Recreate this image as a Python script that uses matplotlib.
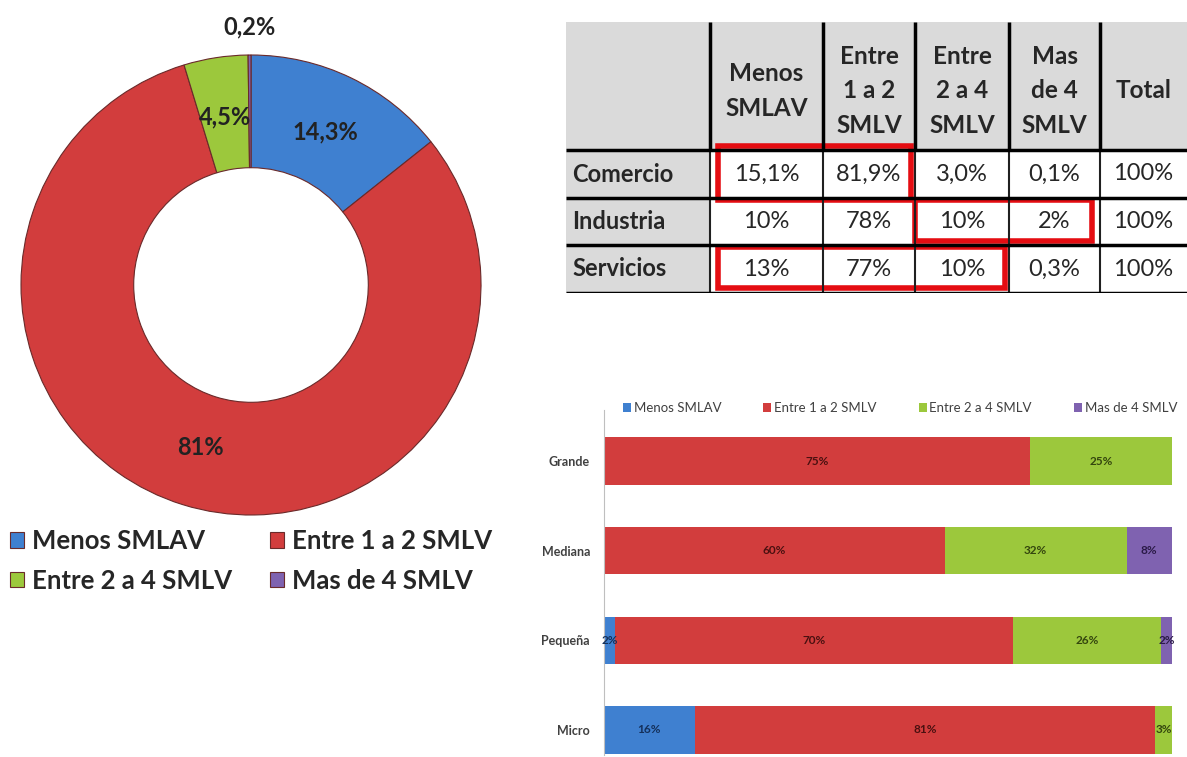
import matplotlib.pyplot as plt
from matplotlib.patches import Rectangle
import numpy as np

plt.rcParams['font.family'] = ['Lato', 'DejaVu Sans']

categorias = ['Menos SMLAV', 'Entre 1 a 2 SMLV', 'Entre 2 a 4 SMLV', 'Mas de 4 SMLV']
cores = ['#3f80d0', '#d23d3d', '#9cc83c', '#7f62b0']

# distribución general (dona)
participacion = [14.3, 81, 4.5, 0.2]

# tabla por sector
cols_tabla = ['Menos\nSMLAV', 'Entre\n1 a 2\nSMLV', 'Entre\n2 a 4\nSMLV', 'Mas\nde 4\nSMLV', 'Total']
sectores = ['Comercio', 'Industria', 'Servicios']
valores_tabla = [
    ['15,1%', '81,9%', '3,0%', '0,1%', '100%'],
    ['10%', '78%', '10%', '2%', '100%'],
    ['13%', '77%', '10%', '0,3%', '100%'],
]

# barras por tamaño de empresa
tamanos = ['Micro', 'Pequeña', 'Mediana', 'Grande']
menos = [16, 2, 0, 0]
entre_1_2 = [81, 70, 60, 75]
entre_2_4 = [3, 26, 32, 25]
mas_4 = [0, 2, 8, 0]

W, H = 1187, 757
fig = plt.figure(figsize=(W / 100, H / 100), dpi=100)


def pct(v):
    return f'{v:g}%'.replace('.', ',')


# --- Dona ---
ax_pie = fig.add_axes([21 / W, 242 / H, 460 / W, 460 / H])
wedges, _ = ax_pie.pie(participacion, colors=cores, startangle=90, counterclock=False,
                       radius=1, wedgeprops=dict(width=0.49, edgecolor='#6a2a2a', linewidth=0.8))
ax_pie.set_xlim(-1, 1)
ax_pie.set_ylim(-1, 1)
for w, v in zip(wedges, participacion):
    ang = np.deg2rad((w.theta1 + w.theta2) / 2)
    r = 0.74 if v > 1 else 1.12
    ax_pie.text(r * np.cos(ang), r * np.sin(ang), pct(v), ha='center', va='center',
                fontsize=17, fontweight='bold', color='#222222')

orden = [0, 2, 1, 3]
fig.legend([wedges[i] for i in orden], [categorias[i] for i in orden], ncol=2,
           loc='center', bbox_to_anchor=(251 / W, 1 - 561 / H), frameon=False,
           prop=dict(weight='bold', size=18.5), handlelength=0.55, handleheight=0.55,
           handletextpad=0.3, columnspacing=1.5, labelspacing=0.6, labelcolor='#262626')

# --- Tabla ---
ax_t = fig.add_axes([566 / W, (H - 293) / H, (W - 566) / W, 271 / H])
anchos = [144, 113, 92, 94, 91, 87]
altos = [128, 48, 47, 48]
xs = np.concatenate([[0], np.cumsum(anchos)])
ys = np.concatenate([[0], np.cumsum(altos)])
ax_t.set_xlim(0, xs[-1])
ax_t.set_ylim(ys[-1], 0)
ax_t.axis('off')

gris = '#dadada'
ax_t.add_patch(Rectangle((0, 0), xs[-1], ys[1], facecolor=gris, edgecolor='none'))
ax_t.add_patch(Rectangle((0, 0), xs[1], ys[-1], facecolor=gris, edgecolor='none'))

for j, c in enumerate(cols_tabla):
    ax_t.text((xs[j + 1] + xs[j + 2]) / 2, ys[1] / 2 + 5, c, ha='center', va='center',
              fontsize=17.5, fontweight='bold', color='#262626', linespacing=1.6)
for i, s in enumerate(sectores):
    yc = (ys[i + 1] + ys[i + 2]) / 2
    ax_t.text(6, yc, s, ha='left', va='center', fontsize=17, fontweight='bold', color='#262626')
    for j, v in enumerate(valores_tabla[i]):
        ax_t.text((xs[j + 1] + xs[j + 2]) / 2, yc, v, ha='center', va='center',
                  fontsize=17, color='#262626')

for x in xs[1:-1]:
    ax_t.plot([x, x], [0, ys[1]], color='black', lw=2.5, solid_capstyle='butt')
    ax_t.plot([x, x], [ys[1], ys[-1]], color='#202020', lw=1.5, solid_capstyle='butt')
for y in ys[1:]:
    ax_t.plot([0, xs[-1]], [y, y], color='black', lw=2.5, solid_capstyle='butt')

# recuadros rojos: (fila, columna inicial, columna final)
recuadros = [(0, 1, 2), (1, 3, 4), (2, 1, 3)]
for fila, c0, c1 in recuadros:
    x0, x1 = xs[c0] + 8, xs[c1 + 1] - 4
    y0, y1 = ys[fila + 1] - 4, ys[fila + 2] + 2
    if fila == 1:
        x0, x1 = xs[c0], xs[c1 + 1] - 8
        y0, y1 = ys[fila + 1] + 2, ys[fila + 2] - 4
    if fila == 2:
        y0, y1 = ys[fila + 1] + 2, ys[fila + 2] - 5
    ax_t.add_patch(Rectangle((x0, y0), x1 - x0, y1 - y0, facecolor='none',
                             edgecolor='#e50d12', lw=4))

# --- Barras apiladas ---
ax_b = fig.add_axes([604 / W, 2 / H, 568 / W, 345 / H])
y = np.arange(len(tamanos))
series = [menos, entre_1_2, entre_2_4, mas_4]
colores_txt = ['#14305a', '#4a1010', '#34460e', '#2a1a46']
izq = np.zeros(len(tamanos))
barras = []
for serie, col, ctxt in zip(series, cores, colores_txt):
    b = ax_b.barh(y, serie, left=izq, height=0.53, color=col, edgecolor='none')
    ax_b.bar_label(b, labels=[pct(v) if v > 0 else '' for v in serie], label_type='center',
                   fontsize=8.5, fontweight='bold', color=ctxt)
    barras.append(b)
    izq += np.array(serie)

ax_b.set_xlim(0, 100)
ax_b.set_ylim(-0.28, 3.57)
ax_b.set_yticks(y)
ax_b.set_yticklabels(tamanos, fontsize=9, fontweight='bold', color='#404040')
ax_b.tick_params(axis='y', length=0, pad=10)
ax_b.set_xticks([])
for lado in ['top', 'right', 'bottom']:
    ax_b.spines[lado].set_visible(False)
ax_b.spines['left'].set_color('#bfbfbf')

fig.legend(barras, categorias, ncol=4, loc='center', bbox_to_anchor=(900 / W, 1 - 408 / H),
           frameon=False, fontsize=9.5, handlelength=0.6, handleheight=0.6,
           handletextpad=0.2, columnspacing=3.2, labelcolor='#404040')

plt.savefig('out.png', dpi=100)
